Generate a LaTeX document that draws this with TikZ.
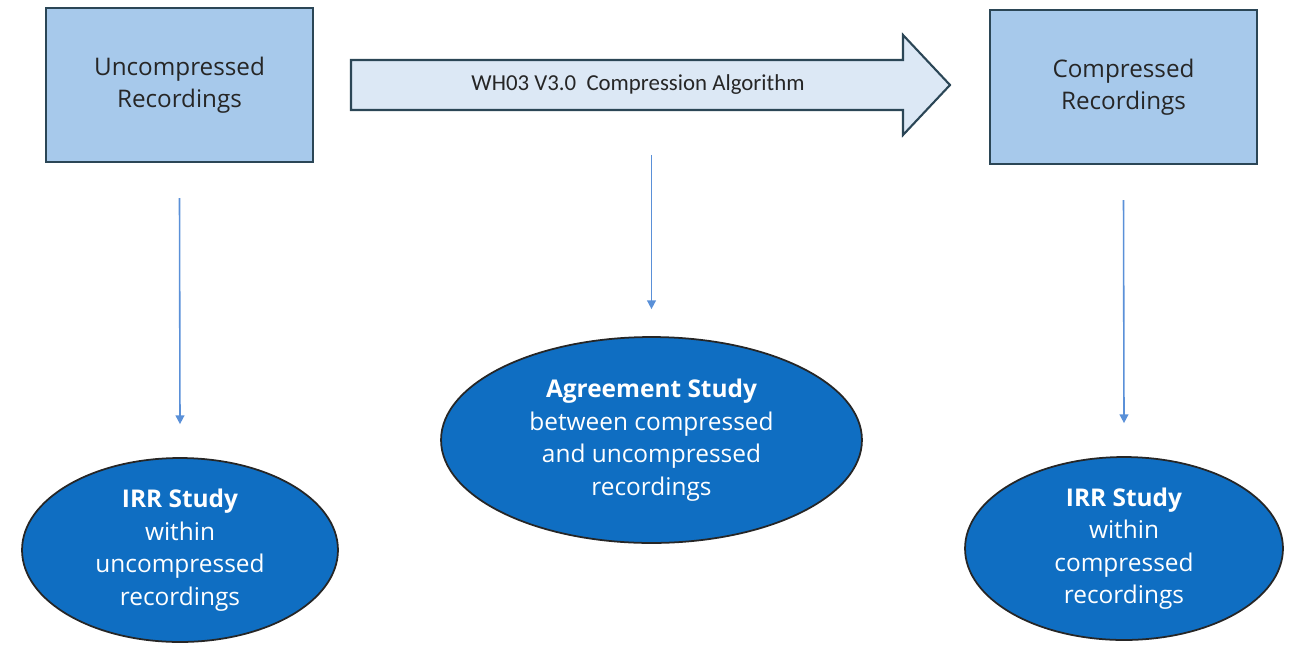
\documentclass[tikz,border=0pt]{standalone}
\usepackage{fontspec}
\setmainfont{Open Sans}
\newfontfamily\calfont{Carlito}
\usetikzlibrary{shapes.geometric,arrows.meta}
\definecolor{boxblue}{HTML}{A7C9EB}
\definecolor{arrowblue}{HTML}{DCE8F5}
\definecolor{studyblue}{HTML}{0F6EC2}
\definecolor{edgedark}{HTML}{2B4656}
\definecolor{linkblue}{HTML}{5A90D8}
\tikzset{
  recbox/.style={draw=edgedark,line width=1.2pt,fill=boxblue,minimum width=5.34cm,minimum height=3.08cm,align=center,font=\fontsize{13.8}{18.5}\selectfont,text=black!85},
  study/.style={ellipse,draw=black!85,line width=1pt,fill=studyblue,inner sep=0pt,align=center,text=white,font=\fontsize{13.9}{18.5}\selectfont},
  conn/.style={linkblue,line width=0.9pt,-{Triangle[width=5pt,length=5pt]}}
}
\begin{document}
\begin{tikzpicture}[x=0.02cm,y=-0.02cm]
\useasboundingbox (0,0) rectangle (1294,646);
% top row
\node[recbox] (ubox) at (179.5,85) {Uncompressed\\Recordings};
\node[recbox] (cbox) at (1123.5,87) {Compressed\\Recordings};
\draw[edgedark,line width=1.2pt,fill=arrowblue]
  (351,60) -- (903,60) -- (903,35) -- (950,85) -- (903,135) -- (903,110) -- (351,110) -- cycle;
\node[font=\calfont\fontsize{13}{15}\selectfont,text=black!85] (algo) at (638,85) {WH03 V3.0\ \ Compression Algorithm};
\coordinate (algobot) at (651.5,110);
% studies
\node[study,minimum width=6.32cm,minimum height=3.68cm] (irru) at (180,550)
  {\textbf{IRR Study}\\within\\uncompressed\\recordings};
\node[study,minimum width=8.42cm,minimum height=4.12cm] (agree) at (651.5,440)
  {\textbf{Agreement Study}\\between compressed\\and uncompressed\\recordings};
\node[study,minimum width=6.36cm,minimum height=3.66cm] (irrc) at (1124,548.5)
  {\textbf{IRR Study}\\within\\compressed\\recordings};
% links
\draw[conn] ([yshift=-0.7cm]ubox.south) -- ([yshift=0.66cm]irru.north);
\draw[conn] ([yshift=-0.9cm]algobot) -- ([yshift=0.54cm]agree.north);
\draw[conn] ([yshift=-0.7cm]cbox.south) -- ([yshift=0.66cm]irrc.north);
\end{tikzpicture}
\end{document}
